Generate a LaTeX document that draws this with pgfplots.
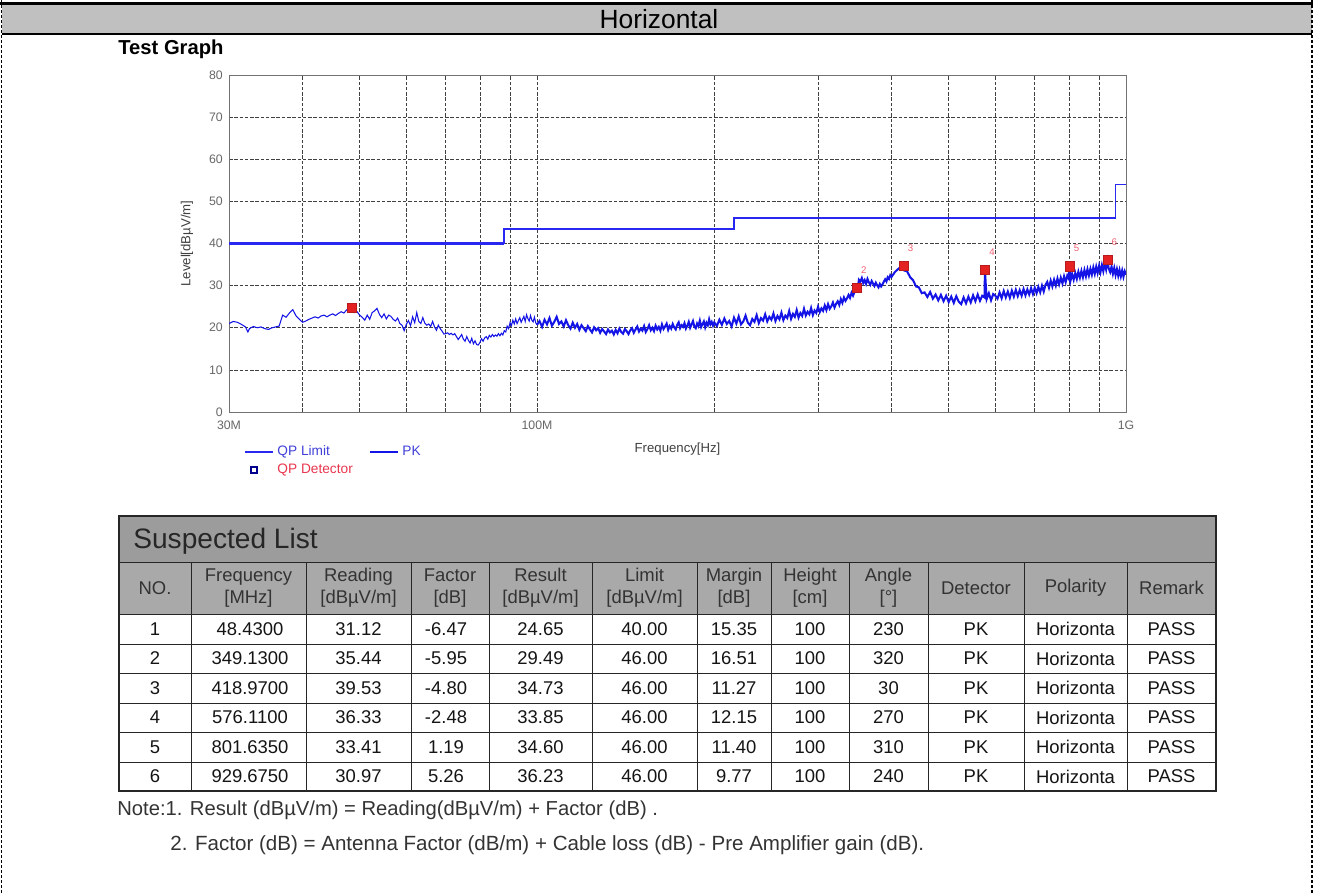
\documentclass[border=0pt]{standalone}
\usepackage{fontspec}
\setmainfont{Liberation Sans}
\usepackage{pgfplots}
\pgfplotsset{compat=1.18}
\definecolor{hdrgray}{HTML}{C0C0C0}
\definecolor{titlegray}{HTML}{9C9C9C}
\definecolor{colgray}{HTML}{A9A9A9}
\definecolor{pkblue}{HTML}{1414E6}
\definecolor{limblue}{HTML}{2828F0}
\definecolor{legblue}{HTML}{4040D8}
\definecolor{detred}{HTML}{E8364E}
\definecolor{mkred}{HTML}{E52222}
\pgfplotsset{
  lineleg/.style={legend image code/.code={\draw[##1] (0mm,0mm) -- (5.6mm,0mm);}},
  detleg/.style={legend image code/.code={\path[##1, draw=none] (0mm,0mm) -- (5.6mm,0mm); \path[##1] plot[only marks] coordinates {(1.8mm,0mm)};}},
}
\begin{document}
\begin{tikzpicture}
\begin{scope}[x=0.2mm,y=-0.2mm]
\useasboundingbox (0,0) rectangle (1318,895);
% header band
\fill[hdrgray] (2,4) rectangle (1312,34);
\draw[line width=0.6mm] (0,3.5) -- (1313,3.5);
\draw[line width=0.45mm] (2,34) -- (1312,34);
\draw[line width=0.35mm, dash pattern=on 0.6mm off 0.4mm] (1.5,0) -- (1.5,895);
\draw[line width=0.35mm, dash pattern=on 0.6mm off 0.4mm] (1312,0) -- (1312,895);
\node[font=\fontsize{15}{18}\selectfont] at (659,19) {Horizontal};
\node[font=\bfseries\fontsize{11.5}{14}\selectfont, anchor=west, inner sep=0pt] at (118,49.5) {Test Graph};
% table
\fill[titlegray] (119,516) rectangle (1216,562);
\fill[colgray] (119,562) rectangle (1216,614);
\foreach \yy in {562,614,644,673,703,732,762} \draw[line width=0.2mm, black!85] (119,\yy) -- (1216,\yy);
\foreach \xx in {191,306,411,489,592,697,771,849,928,1024,1127} \draw[line width=0.2mm, black!85] (\xx,562) -- (\xx,791);
\draw[line width=0.3mm, black!85] (119,516) rectangle (1216,791);
\node[font=\fontsize{16}{19}\selectfont, text=black!85, anchor=west, inner sep=0pt] at (133,541) {Suspected List};
\begin{scope}[every node/.style={font=\fontsize{10.5}{12.5}\selectfont, text=black!80, align=center}]
\node at (155,588) {NO.};
\node at (248.5,588) {Frequency\\{[MHz]}};
\node at (358.5,588) {Reading\\{[dBµV/m]}};
\node at (450,588) {Factor\\{[dB]}};
\node at (540.5,588) {Result\\{[dBµV/m]}};
\node at (644.5,588) {Limit\\{[dBµV/m]}};
\node at (734,588) {Margin\\{[dB]}};
\node at (810,588) {Height\\{[cm]}};
\node at (888.5,588) {Angle\\{[°]}};
\node at (976,588) {Detector};
\node at (1075.5,588) {Polarity};
\node at (1171.5,588) {Remark};
\end{scope}
\begin{scope}[every node/.style={font=\fontsize{10.5}{12.5}\selectfont, text=black!92}]
\foreach \yy/\a/\b/\c/\d/\e/\f/\g/\h/\i in {
 629/1/48.4300/31.12/-6.47/24.65/40.00/15.35/100/230,
 658.5/2/349.1300/35.44/-5.95/29.49/46.00/16.51/100/320,
 688/3/418.9700/39.53/-4.80/34.73/46.00/11.27/100/30,
 717.5/4/576.1100/36.33/-2.48/33.85/46.00/12.15/100/270,
 747/5/801.6350/33.41/1.19/34.60/46.00/11.40/100/310,
 776.5/6/929.6750/30.97/5.26/36.23/46.00/9.77/100/240}{
 \node at (155,\yy) {\a};
 \node at (250,\yy) {\b};
 \node at (358.5,\yy) {\c};
 \node at (446,\yy) {\d};
 \node at (540.5,\yy) {\e};
 \node at (644.5,\yy) {\f};
 \node at (734,\yy) {\g};
 \node at (810,\yy) {\h};
 \node at (888.5,\yy) {\i};
 \node at (976,\yy) {PK};
 \node at (1075.5,\yy) {Horizonta};
 \node at (1171.5,\yy) {PASS};
}
\end{scope}
\node[anchor=west, inner sep=0pt, font=\fontsize{11.5}{13.5}\selectfont, text=black!80] at (117,810) {Note:1. Result (dBµV/m) = Reading(dBµV/m) + Factor (dB) .};
\node[anchor=west, inner sep=0pt, font=\fontsize{11.7}{13.5}\selectfont, text=black!80] at (170,845) {2. Factor (dB) = Antenna Factor (dB/m) + Cable loss (dB) - Pre Amplifier gain (dB).};
\end{scope}

\begin{axis}[
  set layers=standard,
  at={(45.8mm,-82.4mm)}, anchor=south west,
  scale only axis, width=179.4mm, height=67.4mm,
  xmode=log, xmin=30, xmax=1000, ymin=0, ymax=80,
  xtick={30,100,1000}, xticklabels={\mbox{30M},\mbox{100M},\mbox{1G}},
  minor xtick={40,50,60,70,80,90,200,300,400,500,600,700,800,900},
  ytick={0,10,20,30,40,50,60,70,80},
  /pgf/number format/assume math mode=true,
  grid=both,
  major grid style={black!75, dash pattern=on 2pt off 1pt, line width=0.4pt},
  minor grid style={black!75, dash pattern=on 2pt off 1pt, line width=0.4pt},
  axis line style={black!55, line width=0.5pt},
  major tick length=0pt, minor tick length=0pt,
  tick label style={font=\fontsize{7}{8}\selectfont, text=black!60},
  xticklabel style={yshift=-1.5pt},
  xlabel={Frequency[Hz]}, ylabel={Level[dBµV/m]},
  label style={font=\fontsize{7.5}{9}\selectfont, text=black!75},
  xlabel style={at={(axis description cs:0.5,-0.11)}, anchor=center},
  ylabel style={at={(axis description cs:-0.047,0.5)}, anchor=center},
  legend columns=2,
  legend cell align=left,
  legend style={at={(axis description cs:0.0167,-0.089)}, anchor=north west, draw=none, fill=none,
     font=\fontsize{7.8}{8.5}\selectfont, inner sep=0pt, row sep=-1pt,
     /tikz/every even column/.append style={column sep=2.6mm}},
]
\addlegendimage{limblue, line width=0.9pt, lineleg}
\addlegendentry{\textcolor{legblue}{QP Limit}}
\addlegendimage{pkblue, line width=0.9pt, lineleg}
\addlegendentry{\textcolor{legblue}{PK}}
\addlegendimage{only marks, mark=square, mark size=1.6pt, mark options={draw=blue!55!black, fill=white, line width=1pt}, detleg}
\addlegendentry{\textcolor{detred}{QP Detector}}

% PK trace, 30-100 MHz
\addplot[pkblue, line width=0.6pt, forget plot] coordinates {
(30,21.0) (30.5,21.5) (31,21.3) (31.5,20.8) (32,20.2) (32.3,19.0) (32.5,19.8) (33,20.3) (33.5,20.0) (34,20.2)
(34.5,19.8) (35,19.6) (35.5,20.0) (36,20.2) (36.5,20.4) (37,23.0) (37.5,22.5) (38,23.5) (38.5,24.3) (39,22.8)
(39.5,22.0) (40,21.3) (40.5,21.6) (41,22.0) (41.5,22.3) (42,22.6) (42.5,22.3) (43,22.8) (43.5,23.0) (44,22.6)
(44.5,23.0) (45,23.3) (45.5,22.9) (46,23.4) (46.5,23.8) (47,23.5) (47.5,24.2) (48,24.8) (48.5,24.4) (49,23.6)
(49.5,23.8) (50,23.0) (50.5,22.5) (51,21.8) (51.5,23.0) (52,22.0) (52.5,23.6) (53,24.0) (53.5,24.6) (54,23.2)
(54.5,22.4) (55,23.3) (55.5,22.1) (56,23.0) (56.5,22.7) (57,22.0) (57.5,21.6) (58,22.3) (58.5,21.0) (59,20.6)
(59.5,19.3) (60,20.8) (60.5,21.7) (61,20.5) (61.5,22.6) (62,21.2) (62.5,23.6) (63,21.5) (63.5,21.0) (64,22.4)
(64.5,21.1) (65,20.6) (65.5,20.9) (66,20.3) (66.5,21.5) (67,20.2) (67.5,19.4) (68,20.6) (68.5,19.8) (69,19.2)
(69.5,18.5) (70,18.6) (70.5,18.8) (71,18.4) (71.5,18.7) (72,18.3) (72.5,18.6) (73,17.9) (73.5,17.2) (74,17.8)
(74.5,18.4) (75,17.3) (75.5,16.8) (76,17.9) (76.5,17.0) (77,16.4) (77.5,17.5) (78,16.2) (78.5,16.9) (79,16.0)
(79.5,15.9) (80,16.5) (80.5,17.4) (81,16.8) (81.5,17.6) (82,17.9) (82.5,17.3) (83,18.2) (83.5,17.8) (84,18.4)
(84.5,17.9) (85,18.3) (85.5,18.0) (86,18.6) (86.5,18.1) (87,18.7) (87.5,18.3) (88,19.3) (88.5,19.0) (89,20.4)
(89.5,19.8) (90,21.2) (90.5,20.5) (91,21.8) (91.5,20.9) (92,22.1) (92.5,21.0) (93,21.7) (93.5,22.4) (94,21.3)
(94.5,22.0) (95,22.7) (95.5,21.5) (96,23.1) (96.5,22.2) (97,21.6) (97.5,22.9) (98,21.8) (98.5,21.4) (99,22.5)
(99.5,21.2) (100,20.7)
};
% PK trace, 100-1000 MHz (dense)
\addplot[pkblue, line width=1.15pt, forget plot] coordinates {
(100,20.7)
(101,21.6) (102,20.2) (103,21.9) (104,20.8) (105,22.3) (106,20.5) (107,21.4) (108,22.6) (109,20.9) (110,21.5)
(111,20.3) (112,21.8) (113,20.6) (114,19.8) (115,21.2) (116,20.0) (117,20.9) (118,19.5) (119,20.6) (120,19.9)
(121,19.2) (122,20.4) (123,19.6) (124,18.9) (125,20.1) (126,19.4) (127,19.9) (128,18.8) (129,19.7) (130,19.1)
(131,18.5) (132,19.6) (133,18.9) (134,19.3) (135,18.4) (136,19.5) (137,18.7) (138,19.8) (139,19.0) (140,18.6)
(141,19.7) (142,19.2) (143,18.5) (144,19.4) (145,19.9) (146,18.8) (147,19.6) (148,20.3) (149,19.1) (150,19.8)
(151,19.3) (152,20.4) (153,19.0) (154,19.7) (155,20.6) (156,19.4) (157,20.0) (158,19.2) (159,20.5) (160,19.6)
(161,20.2) (162,19.3) (163,20.8) (164,19.7) (165,20.3) (166,21.0) (167,19.5) (168,20.4) (169,19.8) (170,20.9)
(171,20.1) (172,19.6) (173,20.7) (174,21.3) (175,19.9) (176,20.6) (177,20.2) (178,21.1) (179,19.8) (180,20.5)
(181,21.4) (182,20.0) (183,20.8) (184,21.6) (185,20.3) (186,19.9) (187,21.0) (188,20.4) (189,21.7) (190,20.2)
(191,20.9) (192,21.5) (193,20.1) (194,21.2) (195,20.6) (196,22.0) (197,20.8) (198,21.4) (199,20.5) (200,21.3)
(202,20.4) (204,21.9) (206,20.7) (208,22.2) (210,20.9) (212,21.6) (214,20.3) (216,22.4) (218,21.0) (220,22.7)
(222,20.8) (224,21.5) (226,22.9) (228,21.2) (230,20.6) (232,22.1) (234,21.4) (236,23.0) (238,21.1) (240,22.3)
(242,21.7) (244,23.2) (246,21.5) (248,22.6) (250,21.9) (252,23.4) (254,21.6) (256,22.8) (258,22.0) (260,23.6)
(262,21.8) (264,22.9) (266,22.3) (268,24.0) (270,22.1) (272,23.3) (274,22.6) (276,24.2) (278,22.4) (280,23.5)
(282,22.8) (284,24.5) (286,22.9) (288,23.8) (290,23.2) (292,24.7) (294,23.0) (296,24.1) (298,23.5) (300,25.0)
(302,23.7) (304,24.6) (306,24.0) (308,25.3) (310,24.2) (312,25.6) (314,24.5) (316,25.1) (318,26.0) (320,24.8)
(322,25.7) (324,26.3) (326,25.4) (328,26.8) (330,25.9) (332,27.2) (334,26.4) (336,27.0) (338,27.8) (340,27.1)
(342,28.3) (344,27.6) (346,28.5) (348,29.2) (350,28.8) (352,31.4) (354,31.0) (356,31.8) (358,30.6) (360,31.3)
(362,30.4) (364,31.6) (366,30.8) (368,30.2) (370,31.1) (372,30.5) (374,29.9) (376,30.7) (378,30.1) (380,29.6)
(382,30.4) (384,29.8) (386,30.3) (388,30.9) (390,31.5) (392,31.0) (394,32.0) (396,31.6) (398,32.5) (400,32.1)
(405,33.2) (410,33.9) (415,34.5) (420,33.6) (425,33.4) (430,32.0) (435,31.3) (440,29.8) (445,29.6) (450,28.2)
(455,28.4) (460,27.3) (465,28.5) (470,26.9) (475,27.9) (480,26.5) (485,27.8) (490,26.3) (495,27.6) (500,26.1)
(505,27.4) (510,25.9) (515,27.5) (520,26.2) (525,25.6) (530,27.2) (535,25.8) (540,27.4) (545,26.0) (550,27.7)
(555,26.3) (560,27.9) (565,26.4) (570,27.6) (575,27.2) (576.1,33.6) (580,26.8) (585,28.2) (590,26.5) (595,28.0)
(600,27.6) (605,26.9) (610,28.4) (615,27.0) (620,28.7) (625,27.2) (630,28.6) (635,27.1) (640,28.8) (645,27.4)
(650,29.0) (655,27.5) (660,28.9) (665,27.6) (670,29.2) (675,27.7) (680,29.1) (685,27.9) (690,29.4) (695,28.0)
(700,29.5) (705,28.2) (710,29.7) (715,28.4) (720,30.0) (725,28.6) (730,30.2) (735,30.9) (740,29.5) (745,31.2)
(750,29.8) (755,31.4) (760,30.0) (765,31.7) (770,30.3) (775,31.9) (780,30.5) (785,32.2) (790,30.8) (795,32.4)
(800,31.6) (801.6,34.3) (805,31.2) (810,32.8) (815,31.4) (820,33.0) (825,31.6) (830,33.3) (835,31.9) (840,33.5)
(845,32.0) (850,33.7) (855,32.2) (860,33.9) (865,32.4) (870,34.0) (875,32.6) (880,34.3) (885,32.8) (890,34.5)
(895,33.0) (900,34.7) (905,33.2) (910,34.9) (915,33.4) (920,35.1) (925,33.8) (929.7,35.9) (935,34.0) (940,33.2)
(945,34.5) (950,32.8) (955,34.2) (960,32.5) (965,33.9) (970,32.3) (975,33.7) (980,32.2) (985,33.6) (990,32.1)
(995,33.4) (1000,32.6)
};

% QP limit, first band 30-88 MHz drawn separately and slightly heavier
\addplot[limblue, line width=1.3pt, forget plot, on layer=axis foreground] coordinates {(30,40) (88,40)};
% QP limit, remaining bands
\addplot[limblue, line width=1pt, forget plot, on layer=axis foreground] coordinates {(88,40) (88,43.5) (216,43.5) (216,46) (960,46) (960,54) (1000,54)};

% suspected points
\addplot[only marks, mark=square*, mark size=2.6pt, mark options={fill=mkred, draw=mkred!80!black, line width=0.3pt}, forget plot,
  nodes near coords, point meta=explicit symbolic,
  nodes near coords style={font=\fontsize{5.5}{6}\selectfont, text=detred!80, anchor=center, xshift=4pt, yshift=10pt}]
  coordinates {(48.43,24.65)[] (349.13,29.49)[2] (418.97,34.73)[3] (576.11,33.85)[4] (801.635,34.60)[5] (929.675,36.23)[6]};
\end{axis}
\end{tikzpicture}
\end{document}
